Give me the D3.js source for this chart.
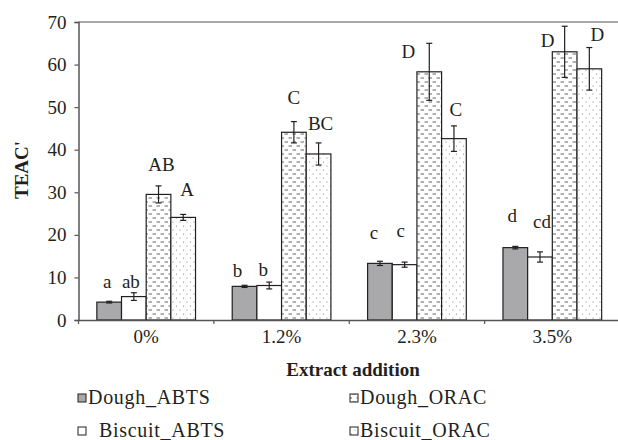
<!DOCTYPE html>
<html><head><meta charset="utf-8">
<script src="https://cdn.jsdelivr.net/npm/d3@7"></script>
<style>
html,body{margin:0;padding:0;background:#fff;}
svg text{font-family:"Liberation Serif","DejaVu Serif",serif;fill:#231f20;}
</style></head>
<body>
<script>
// ---- data ----
const categories = ["0%", "1.2%", "2.3%", "3.5%"];
const seriesNames = ["Dough_ABTS", "Biscuit_ABTS", "Dough_ORAC", "Biscuit_ORAC"];
const doughABTS   = [4.2, 7.9, 13.3, 17.0];
const biscuitABTS = [5.5, 8.1, 13.0, 14.8];
const doughORAC   = [29.5, 44.1, 58.3, 63.0];
const biscuitORAC = [24.1, 39.0, 42.6, 59.0];
const errDoughABTS   = [0.2, 0.25, 0.5, 0.3];
const errBiscuitABTS = [0.9, 0.8, 0.6, 1.2];
const errDoughORAC   = [2.0, 2.5, 6.7, 6.0];
const errBiscuitORAC = [0.7, 2.6, 3.0, 5.0];
const lettersDoughABTS   = ["a", "b", "c", "d"];
const lettersBiscuitABTS = ["ab", "b", "c", "cd"];
const lettersDoughORAC   = ["AB", "C", "D", "D"];
const lettersBiscuitORAC = ["A", "BC", "C", "D"];
const yTicks = [0, 10, 20, 30, 40, 50, 60, 70];
const xTitle = "Extract addition";
const yTitle = "TEAC'";

// layout nudges for significance letters [dx, dy] px, relative to error-bar top
const letterNudge = [
  [[-2,-20],[-7,-15],[-6,-29],[-3,-31]],
  [[-3,-11],[-6,-13],[-4,-32],[2,-30]],
  [[3,-21],[0,-24],[-21,8],[-17,14]],
  [[4,-25],[2,-19],[2,-16],[8,-13]]
];

const values = [doughABTS, biscuitABTS, doughORAC, biscuitORAC];
const errors = [errDoughABTS, errBiscuitABTS, errDoughORAC, errBiscuitORAC];
const letters = [lettersDoughABTS, lettersBiscuitABTS, lettersDoughORAC, lettersBiscuitORAC];

const W = 618, H = 440;
const svg = d3.select("body").append("svg").attr("width", W).attr("height", H);

const defs = svg.append("defs");
const pd = defs.append("pattern").attr("id","dash").attr("patternUnits","userSpaceOnUse")
  .attr("width",8).attr("height",8);
pd.append("rect").attr("width",8).attr("height",8).attr("fill","#fff");
pd.append("line").attr("x1",0.5).attr("x2",4).attr("y1",2).attr("y2",2).attr("stroke","#666").attr("stroke-width",1);
pd.append("line").attr("x1",4.5).attr("x2",8).attr("y1",6).attr("y2",6).attr("stroke","#666").attr("stroke-width",1);
const pdt = defs.append("pattern").attr("id","dots").attr("patternUnits","userSpaceOnUse")
  .attr("width",7).attr("height",8);
pdt.append("rect").attr("width",7).attr("height",8).attr("fill","#fff");
pdt.append("circle").attr("cx",1.5).attr("cy",2).attr("r",0.6).attr("fill","#777");
pdt.append("circle").attr("cx",5).attr("cy",6).attr("r",0.6).attr("fill","#777");

const fills = ["#a9a8aa", "#ffffff", "url(#dash)", "url(#dots)"];

const x0 = d3.scaleBand().domain(categories).range([78.5, 620]).paddingInner(0.271).paddingOuter(0.1355);
const x1 = d3.scaleBand().domain(d3.range(seriesNames.length)).range([0, x0.bandwidth()]);
const y = d3.scaleLinear().domain([0, 70]).range([320, 22]);

// top frame line
svg.append("line").attr("x1", x0.range()[0]).attr("x2", x0.range()[1])
  .attr("y1", y(70)).attr("y2", y(70)).attr("stroke", "#555").attr("stroke-width", 1.2);

// bars
const g = svg.append("g");
categories.forEach((c, ci) => {
  seriesNames.forEach((s, si) => {
    const v = values[si][ci], e = errors[si][ci];
    const bx = x0(c) + x1(si), bw = x1.bandwidth();
    g.append("rect").attr("x", bx).attr("y", y(v)).attr("width", bw).attr("height", y(0) - y(v))
      .attr("fill", fills[si]).attr("stroke", "#231f20").attr("stroke-width", 1.2);
    const cx = bx + bw / 2;
    const eg = g.append("g").attr("stroke", "#231f20").attr("stroke-width", 1.2);
    eg.append("line").attr("x1", cx).attr("x2", cx).attr("y1", y(v + e)).attr("y2", y(v - e));
    eg.append("line").attr("x1", cx - 3).attr("x2", cx + 3).attr("y1", y(v + e)).attr("y2", y(v + e));
    eg.append("line").attr("x1", cx - 3).attr("x2", cx + 3).attr("y1", y(v - e)).attr("y2", y(v - e));
    const nd = letterNudge[si][ci];
    g.append("text").attr("x", cx + nd[0]).attr("y", y(v + e) + nd[1])
      .attr("text-anchor", "middle").attr("dominant-baseline", "central")
      .attr("font-size", 19).text(letters[si][ci]);
  });
});

// y axis
const ya = svg.append("g").attr("transform", `translate(${x0.range()[0]},0)`)
  .call(d3.axisLeft(y).tickValues(yTicks).tickSize(4).tickPadding(8).tickFormat(d3.format("d")));
ya.select(".domain").attr("stroke", "#555").attr("stroke-width", 1.5);
ya.selectAll(".tick line").attr("stroke", "#555").attr("stroke-width", 1.2);
ya.selectAll(".tick text").attr("font-size", 19).attr("fill", "#231f20")
  .attr("font-family", "Liberation Serif, DejaVu Serif, serif");

// x axis
const xa = svg.append("g").attr("transform", `translate(0,${y(0)})`)
  .call(d3.axisBottom(x0).tickSize(0).tickPadding(10));
xa.select(".domain").attr("stroke", "#555").attr("stroke-width", 1.5);
xa.selectAll(".tick text").attr("font-size", 19).attr("fill", "#231f20")
  .attr("font-family", "Liberation Serif, DejaVu Serif, serif");
// group boundary ticks
d3.range(categories.length + 1).forEach(i => {
  const tx = x0.range()[0] + i * x0.step();
  xa.append("line").attr("x1", tx).attr("x2", tx).attr("y1", 0).attr("y2", 4)
    .attr("stroke", "#555").attr("stroke-width", 1.2);
});

// axis titles
svg.append("text").attr("x", 353).attr("y", 369).attr("text-anchor", "middle")
  .attr("dominant-baseline", "central").attr("font-size", 19).attr("font-weight", "bold").text(xTitle);
svg.append("text").attr("transform", "translate(21,170) rotate(-90)").attr("text-anchor", "middle")
  .attr("dominant-baseline", "central").attr("font-size", 19).attr("font-weight", "bold").text(yTitle);

// legend
const legendOrder = [0, 2, 1, 3];
legendOrder.forEach((si, k) => {
  const col = k % 2, row = Math.floor(k / 2);
  const lx = col === 0 ? 78 : 350, ly = row === 0 ? 398 : 431;
  svg.append("rect").attr("x", lx).attr("y", ly - 4).attr("width", 8).attr("height", 8)
    .attr("fill", fills[si]).attr("stroke", "#231f20").attr("stroke-width", 1);
  svg.append("text").attr("x", lx + (si === 1 ? 21 : 10)).attr("y", ly + 5.5)
    .attr("font-size", 20).attr("letter-spacing", 0.7).text(seriesNames[si]);
});
</script>
</body></html>
